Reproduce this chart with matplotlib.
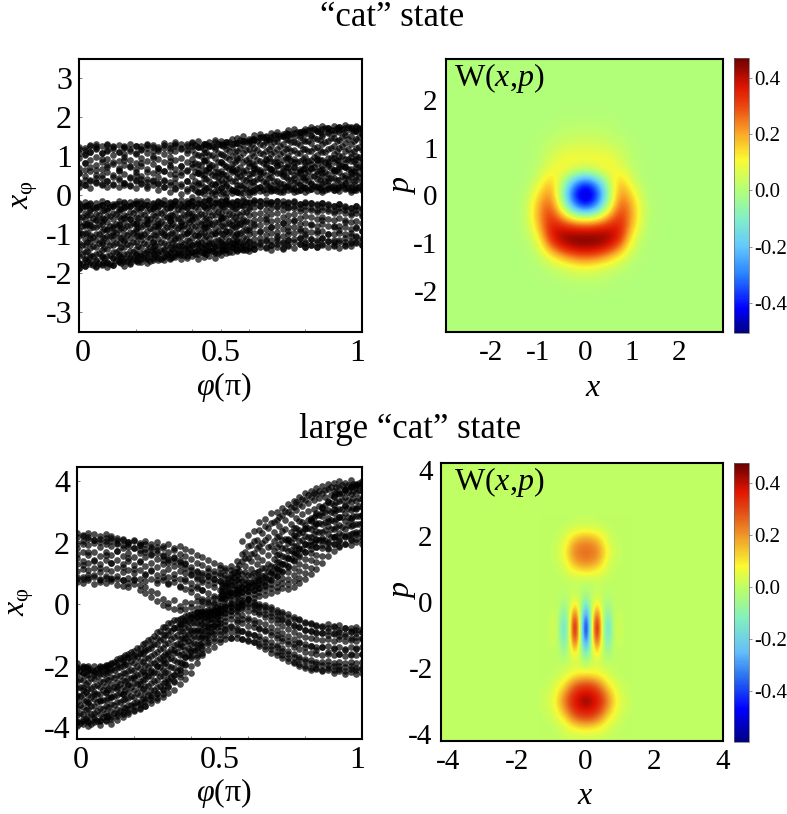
import numpy as np
import matplotlib
matplotlib.use('Agg')
import matplotlib.pyplot as plt
from matplotlib.colors import LinearSegmentedColormap
from matplotlib.ticker import FixedLocator
from matplotlib.transforms import ScaledTranslation

plt.rcParams['font.family'] = ['Liberation Serif', 'DejaVu Serif']
plt.rcParams['mathtext.fontset'] = 'custom'
plt.rcParams['mathtext.rm'] = 'Liberation Serif'
plt.rcParams['mathtext.it'] = 'Liberation Serif:italic'
plt.rcParams['axes.unicode_minus'] = False

W, H = 787, 814

# loose samples along the band edges, hundredths of x_phi, one list per phase column
cat_upper = [
[34,22,58,109,124],[41,27,83,117,106],[19,38,72,129,112],[31,45,66,121,131],[26,52,94,108,126],
[36,23,79,133,115],[29,48,87,119,127],[21,40,63,112,130],[33,28,91,124,106],[24,46,75,131,118],
[37,19,68,110,126],[30,43,84,128,116],[18,35,59,122,133],[27,41,97,113,130],[14,32,71,125,119],
[22,38,62,134,121],[9,26,88,115,129],[16,31,54,127,136],[4,24,76,122,131],[12,36,65,117,133],
[-3,20,82,138,126],[8,28,57,124,141],[15,5,92,131,119],[-6,22,70,136,128],[11,30,61,143,125],
[3,18,86,132,140],[-4,25,74,137,129],[13,7,66,145,133],[20,9,95,134,148],[6,27,58,141,152],
[16,2,83,146,135],[10,24,71,155,142],[21,12,60,149,158],[7,29,90,153,143],[18,14,68,161,150],
[11,25,79,147,164],[22,8,56,158,152],[15,28,97,167,155],[19,10,73,149,171],[26,13,62,162,155],
[9,20,85,170,158],[17,30,69,153,176],[12,23,92,166,172],[24,8,58,158,177],[16,27,80,174,163],
[13,21,65,179,160],[25,11,88,168,176],[18,29,72,162,180],[10,22,55,175,169],[20,14,94,179,165],
[15,26,68,172,160]]

cat_lower = [
[-20,-34,-172,-186,-95],[-28,-16,-163,-181,-72],[-22,-37,-176,-158,-110],[-31,-19,-184,-168,-64],[-24,-14,-156,-178,-120],
[-18,-33,-171,-183,-88],[-27,-21,-160,-177,-101],[-15,-35,-169,-152,-76],[-29,-20,-181,-163,-114],[-17,-26,-158,-174,-60],
[-23,-13,-166,-149,-92],[-30,-18,-155,-171,-105],[-14,-25,-145,-163,-70],[-21,-32,-159,-142,-118],[-16,-27,-150,-165,-82],
[-12,-24,-139,-157,-98],[-20,-30,-161,-146,-66],[-14,-22,-135,-152,-108],[-26,-11,-148,-130,-78],[-18,-29,-154,-138,-95],
[-13,-24,-128,-146,-62],[-21,-10,-141,-125,-103],[-28,-15,-134,-147,-84],[-12,-23,-122,-140,-70],[-19,-9,-144,-129,-96],
[-25,-14,-118,-136,-58],[-11,-20,-139,-126,-90],[-17,-27,-122,-132,-75],[-13,-22,-141,-116,-100],[-24,-8,-128,-137,-65],
[-16,-29,-118,-134,-88],[-19,-11,-138,-125,-72],[-27,-14,-120,-131,-94],[-12,-23,-135,-114,-60],[-21,-17,-127,-139,-82],
[-15,-28,-116,-132,-104],[-24,-13,-136,-122,-70],[-18,-30,-128,-115,-92],[-14,-26,-134,-119,-66],[-22,-33,-124,-110,-86],
[-17,-28,-131,-118,-100],[-31,-20,-112,-127,-74],[-23,-36,-133,-120,-90],[-19,-30,-125,-108,-62],[-34,-24,-116,-131,-98],
[-27,-40,-127,-113,-78],[-22,-33,-134,-119,-88],[-37,-29,-110,-126,-68],[-31,-44,-129,-116,-95],[-26,-38,-121,-107,-80],
[-35,-48,-128,-114,-90]]

large_upper = [
[72,88,218,232,150],[84,70,226,205,128],[78,95,233,214,170],[66,90,210,228,140],[80,73,221,203,118],
[92,68,216,228,160],[75,86,207,221,135],[64,82,200,216,175],[79,60,212,194,122],[55,70,202,188,150],
[66,84,205,183,115],[48,62,192,176,140],[56,36,196,172,95],[24,44,180,163,112],[38,10,168,186,78],
[-2,18,160,146,90],[6,-10,152,134,70],[-15,14,141,155,86],[-6,-18,128,144,60],[-14,8,118,136,82],
[-8,4,112,100,52],[-12,10,88,104,60],[-2,12,96,80,46],[0,18,78,92,108],[4,22,82,100,70],
[10,28,94,76,118],[16,30,86,112,62],[26,40,100,126,78],[32,48,118,140,96],[40,58,165,140,205],
[42,62,225,190,150],[46,70,238,205,168],[52,80,268,242,190],[62,90,255,278,210],[80,102,296,264,190],
[92,118,276,302,220],[108,132,312,290,240],[122,150,300,326,210],[146,170,336,316,250],[160,182,348,325,270],
[172,196,340,362,245],[180,206,370,348,280],[188,210,358,378,260],[192,216,386,364,300],[200,184,376,392,270],
[196,220,395,370,310],[205,190,382,400,285],[198,224,372,396,320],[212,194,404,386,275],[204,228,392,378,310],
[210,198,402,384,290]]

large_lower = [
[-395,-380,-192,-210,-300],[-388,-372,-205,-222,-280],[-396,-378,-215,-200,-320],[-384,-368,-200,-226,-290],[-392,-375,-218,-202,-310],
[-380,-362,-196,-212,-285],[-372,-388,-190,-208,-300],[-376,-358,-178,-196,-270],[-365,-350,-170,-188,-290],[-358,-342,-160,-176,-260],
[-348,-332,-152,-170,-240],[-340,-324,-142,-158,-260],[-330,-314,-125,-146,-230],[-312,-296,-112,-132,-220],[-306,-288,-90,-110,-200],
[-292,-274,-72,-96,-180],[-268,-250,-62,-84,-160],[-248,-230,-52,-76,-150],[-228,-206,-46,-66,-130],[-195,-172,-38,-56,-110],
[-168,-148,-30,-44,-90],[-166,-142,-28,-40,-88],[-158,-136,-20,-34,-100],[-124,-100,-24,-38,-75],[-118,-96,-18,-30,-70],
[-112,-88,-14,-28,-60],[-100,-82,-10,-24,-66],[-108,-90,-6,-20,-70],[-96,-78,-4,-16,-58],[-112,-88,4,-10,-48],
[-116,-96,14,-6,-52],[-124,-100,2,-16,-60],[-136,-112,-4,-24,-76],[-122,-146,-10,-30,-84],[-158,-134,-14,-38,-90],
[-166,-140,-24,-46,-100],[-176,-152,-30,-52,-110],[-184,-160,-40,-62,-120],[-192,-170,-46,-70,-130],[-200,-178,-52,-74,-125],
[-206,-184,-60,-82,-140],[-212,-190,-64,-86,-135],[-208,-194,-70,-92,-150],[-218,-196,-72,-94,-140],[-214,-198,-78,-100,-155],
[-222,-200,-70,-96,-145],[-216,-202,-82,-104,-160],[-226,-204,-76,-102,-150],[-220,-200,-88,-108,-165],[-228,-206,-84,-106,-145],
[-222,-204,-90,-110,-160]]

# samples inside the bands
cat_upper_inner = [
[32,58,71,96,118],[28,49,83,104,122,66],[41,62,90,111,128],[35,53,78,99,120,127],[30,46,69,87,108],
[38,60,74,94,116,130],[27,52,81,103,125],[44,65,89,112,70],[33,56,77,98,121,128],[26,48,72,92,115],
[39,61,84,106,127,53],[31,50,75,97,119],[24,43,67,88,110,129],[36,58,80,101,124],[29,47,70,93,114,62],
[22,41,64,86,107,130],[34,55,78,99,122,72],[20,44,68,90,113,132],[30,52,75,96,118,60],[16,38,62,85,108,128],
[27,49,73,94,117,134],[8,33,57,80,103,125,68],[22,44,66,88,110,131,52],[12,36,60,82,104,127,74],[5,28,50,72,95,118,136],
[18,40,63,85,107,129,56],[6,30,53,76,98,120,138,42],[15,37,59,81,102,124,70],[8,26,48,69,91,113,135,58],[20,42,64,86,108,130,141],
[10,32,54,75,97,119,140,46],[14,36,58,79,101,123,144,67],[22,44,66,88,110,132,55,148],[16,34,52,72,93,115,136,150,80],[12,28,47,68,89,106,127,146,60],
[20,38,57,76,96,118,139,155,85],[14,30,49,70,91,112,133,152,62],[24,42,61,80,100,122,143,158,74],[17,33,53,73,94,116,137,160,86,44],[13,29,48,67,88,109,130,151,164,58],
[21,39,58,77,98,119,141,162,70,47],[16,32,51,71,92,113,134,155,168,82],[25,43,62,81,103,124,146,166,56,93],[15,31,50,69,90,111,132,153,170,75],[19,37,56,76,97,118,140,161,174,86,46],
[14,28,46,65,85,106,127,148,169,59,96],[22,40,60,79,100,121,143,164,176,72],[17,33,52,72,93,114,135,156,172,84,44],[15,29,48,68,89,110,131,152,173,61,99],[24,41,61,81,102,123,145,165,176,73,53],
[16,34,54,74,95,116,137,158,170,86]]

cat_lower_inner = [
[-22,-38,-55,-71,-88,-104,-121,-138,-155,-172,-185],[-27,-44,-60,-79,-95,-112,-128,-146,-163,-180],[-20,-35,-51,-68,-84,-101,-118,-134,-152,-170,-76],[-30,-47,-63,-81,-98,-115,-131,-149,-166,-182],[-24,-40,-57,-73,-90,-107,-124,-141,-158,-175,-66],
[-19,-36,-52,-69,-86,-103,-120,-137,-154,-172],[-28,-45,-61,-78,-94,-111,-127,-144,-161,-178,-83],[-22,-39,-56,-72,-89,-106,-122,-139,-156,-170],[-17,-33,-50,-67,-83,-100,-117,-133,-150,-167,-58],[-26,-43,-59,-76,-93,-109,-126,-143,-160,-176],
[-20,-37,-54,-70,-87,-104,-120,-137,-153,-168,-74],[-15,-31,-48,-65,-82,-98,-115,-132,-148,-164],[-24,-41,-57,-74,-91,-107,-124,-140,-157,-172,-62],[-18,-35,-51,-68,-85,-101,-118,-134,-151,-166],[-14,-29,-46,-63,-79,-96,-112,-129,-145,-160,-72],
[-22,-39,-55,-72,-88,-105,-121,-138,-154,-166],[-16,-32,-49,-66,-82,-99,-115,-132,-148,-162,-58],[-13,-28,-45,-61,-78,-94,-111,-127,-144,-158],[-21,-37,-54,-70,-87,-103,-120,-136,-152,-164,-68],[-15,-31,-48,-64,-81,-97,-114,-130,-146,-160],
[-13,-27,-44,-60,-77,-93,-110,-126,-142,-156,-52],[-20,-36,-53,-69,-85,-102,-118,-134,-150,-162],[-14,-30,-47,-63,-80,-96,-112,-128,-144,-157,-72],[-12,-26,-43,-59,-75,-92,-108,-124,-140,-154],[-19,-35,-51,-68,-84,-100,-117,-133,-148,-160],
[-14,-29,-46,-62,-78,-95,-111,-127,-142,-152,-56],[-13,-25,-41,-57,-74,-90,-106,-122,-137,-148],[-18,-34,-50,-66,-83,-99,-115,-131,-146],[-15,-30,-46,-63,-79,-95,-111,-127,-142,-70],[-13,-27,-43,-59,-75,-91,-107,-123,-139],
[-19,-35,-51,-68,-84,-100,-116,-132,-142],[-15,-30,-47,-63,-79,-95,-111,-127,-138],[-14,-28,-44,-60,-76,-92,-108,-124],[-20,-36,-52,-69,-85,-101,-117,-133],[-16,-32,-48,-65,-81,-97,-113,-128],
[-15,-30,-46,-62,-78,-94,-110,-125],[-21,-37,-54,-70,-87,-103,-119,-134],[-17,-33,-50,-66,-82,-98,-114,-130],[-16,-31,-47,-63,-80,-96,-112],[-23,-40,-57,-74,-91,-108,-125],
[-18,-36,-53,-70,-88,-105,-122,-133],[-20,-38,-56,-75,-94,-112,-128],[-25,-43,-60,-78,-96,-114,-131],[-19,-37,-55,-73,-92,-110,-127],[-23,-41,-60,-79,-98,-116],
[-28,-46,-64,-82,-100,-118,-130],[-21,-40,-58,-77,-95,-113],[-26,-44,-63,-81,-100,-119,-129],[-31,-49,-67,-86,-104,-122],[-27,-46,-65,-84,-103,-120],
[-33,-52,-71,-90,-108,-126]]

large_upper_inner = [
[83,107,131,165,183,201],[90,116,142,170,196,222],[86,112,136,162,192,218],[94,120,146,172,200,210],[82,105,133,158,186,212],
[87,114,143,170,198,206],[81,109,135,162,190,217],[92,118,145,173,195,209],[80,104,130,157,184,211],[86,113,140,168,195,202],
[78,102,128,155,182,209],[84,111,138,166,193,200],[76,100,126,153,180,206],[82,108,135,162,188,198],[70,96,122,149,176,202],
[78,104,130,157,184,190],[66,90,116,143,170,196],[72,98,124,151,178,184],[58,82,110,137,164,190],[50,76,102,130,156,180],
[40,68,96,122,148,174],[26,54,82,110,136,162],[18,46,74,102,128,154],[8,36,64,92,118,144],[2,28,56,84,110,136],
[-4,22,48,76,102,128],[0,20,42,70,96,120],[4,18,38,62,88,112],[10,24,38,54,80,104],[14,26,40,56,76,98],
[18,30,44,58,74,94],[22,34,48,62,80,102],[26,40,54,68,88,110],[32,46,60,76,96,118],[38,52,66,82,104,126],
[44,58,74,92,114,138,160,186],[52,68,86,106,130,156,182,208],[50,66,84,104,126,150,174,200,214],[58,76,96,118,140,164,190,216,226],[68,86,108,130,154,180,206,232,242],
[82,102,124,148,172,198,224,250,258],[98,120,144,168,194,220,246,272,276],[114,138,162,188,214,240,266,292,296],[134,158,182,208,234,260,286,312,316],[156,180,204,230,256,282,308,334,336],
[174,196,220,246,272,298,324,350,352],[186,208,232,258,284,310,336,360,364],[198,220,244,270,296,322,348,372,374],[208,230,254,280,306,332,358,382,382],[214,236,260,286,312,338,364,388,388],
[220,242,266,292,318,344,368,392,392]]

large_lower_inner = [
[-382,-360,-338,-316,-294,-272,-250,-228,-206,-204],[-378,-356,-334,-312,-290,-268,-246,-224,-202,-208],[-384,-362,-340,-318,-296,-274,-252,-230,-208,-212],[-374,-352,-330,-308,-286,-264,-242,-220,-218],[-380,-358,-336,-314,-292,-270,-248,-226,-204,-210],
[-376,-354,-332,-310,-288,-266,-244,-222,-200,-206],[-368,-346,-324,-302,-280,-258,-236,-214,-194],[-362,-340,-318,-296,-274,-252,-230,-208,-188],[-356,-334,-312,-290,-268,-246,-224,-202,-180],[-350,-328,-306,-284,-262,-240,-218,-196,-172],
[-344,-322,-300,-278,-256,-234,-212,-190,-166],[-338,-316,-294,-272,-250,-228,-206,-184,-160],[-330,-308,-286,-264,-242,-220,-198,-176,-152],[-322,-300,-278,-256,-234,-212,-190,-168,-142],[-312,-290,-268,-246,-224,-202,-180,-156,-130],
[-300,-278,-256,-234,-212,-190,-168,-142,-114],[-288,-266,-244,-222,-200,-178,-154,-126,-98],[-278,-254,-230,-206,-182,-158,-132,-106,-78],[-260,-236,-212,-188,-164,-140,-114,-88,-64],[-244,-220,-196,-172,-148,-124,-100,-76,-52],
[-222,-200,-176,-154,-130,-108,-84,-62,-40],[-190,-170,-150,-128,-106,-84,-62,-42,-26],[-166,-146,-126,-106,-84,-64,-44,-26],[-150,-130,-110,-90,-70,-50,-34,-18],[-140,-110,-86,-66,-48,-32,-18],
[-122,-96,-70,-52,-36,-24,-12],[-112,-80,-54,-40,-28,-16,-6],[-108,-74,-48,-34,-22,-10,0],[-110,-82,-52,-34,-20,-8,4],[-114,-88,-62,-36,-16,-2,8],
[-118,-94,-70,-44,-20,0,16],[-122,-98,-74,-50,-26,-4,8],[-128,-104,-80,-56,-32,-10,2],[-136,-112,-88,-64,-40,-18,-2],[-146,-122,-98,-74,-50,-28,-10],
[-156,-132,-108,-84,-60,-38,-18],[-166,-142,-118,-94,-70,-46,-26],[-176,-152,-128,-104,-80,-56,-32],[-186,-162,-138,-114,-90,-66,-40],[-194,-170,-146,-122,-98,-74,-48],
[-202,-178,-154,-130,-106,-82,-56],[-206,-182,-158,-134,-110,-86,-62],[-210,-186,-162,-138,-114,-90,-66],[-212,-188,-164,-140,-116,-92,-70],[-208,-184,-160,-136,-112,-88,-64],
[-214,-190,-166,-142,-118,-94,-74],[-210,-186,-162,-138,-114,-90,-68],[-216,-192,-168,-144,-120,-96,-76],[-211,-187,-163,-139,-115,-91,-78],[-214,-190,-166,-142,-118,-94,-72],
[-210,-186,-162,-138,-114,-90,-80]]

# extra samples in the parts of the bands that print nearly solid black, set between the columns above
cat_upper_dense_phi = (0.41, 0.99)
cat_upper_dense = [
[14,37,59,83,107,129],[10,31,55,77,101,124],[18,42,66,90,112,133],[7,29,52,79,103,126],[13,35,61,86,109,131,48],
[9,33,56,81,105,128],[20,44,69,93,115,137],[12,38,63,87,111,134],[6,27,50,74,99,122,143],[17,41,65,91,116,139],
[11,34,58,84,108,132,146],[19,43,67,92,117,141],[13,36,60,83,107,130,150],[22,46,70,95,119,143],[15,37,62,87,112,136,155],
[10,33,57,82,106,128,152],[23,47,72,97,120,145,160],[16,39,64,89,113,138,157],[12,35,59,85,110,134,162],[21,45,68,94,118,142,165],
[14,38,63,88,114,140,167],[25,49,73,99,123,147,170],[18,41,66,91,116,143,164],[13,36,61,87,111,137,172],[22,46,71,96,122,148,168],
[16,40,65,90,115,141,174],[27,50,75,101,126,151,171],[19,43,67,93,119,146,175],[14,37,62,88,113,139,166],[23,47,72,98,124,149,173]]

cat_lower_dense_phi = (0.01, 0.59)
cat_lower_dense = [
[-30,-54,-78,-100,-126,-150,-176],[-24,-49,-74,-97,-118,-143,-168],[-33,-58,-82,-107,-130,-155,-179],[-26,-50,-76,-99,-123,-147,-173],[-36,-61,-85,-110,-134,-160,-170],
[-29,-53,-79,-103,-128,-152,-176],[-23,-47,-72,-96,-121,-146,-165],[-34,-59,-83,-108,-132,-157,-172],[-27,-52,-77,-101,-125,-149,-168],[-21,-46,-70,-95,-119,-144,-162],
[-32,-57,-81,-105,-130,-154,-170],[-25,-50,-75,-99,-123,-147,-159],[-35,-60,-84,-109,-133,-151,-167],[-28,-53,-78,-102,-126,-141,-156],[-20,-45,-69,-94,-118,-143,-164],
[-31,-56,-80,-104,-128,-149,-153],[-24,-49,-73,-97,-122,-138,-158],[-34,-58,-83,-107,-129,-146,-150],[-27,-51,-76,-100,-124,-136,-153],[-19,-44,-68,-92,-116,-133,-147],
[-30,-55,-79,-102,-125,-142,-149],[-23,-48,-72,-96,-119,-131,-144],[-33,-57,-81,-105,-127,-139,-151],[-26,-50,-74,-98,-121,-134,-143],[-18,-43,-67,-91,-114,-129,-148],
[-29,-54,-77,-100,-124,-137,-141],[-22,-47,-71,-94,-116,-130,-145],[-32,-56,-80,-103,-121,-127,-138],[-25,-49,-73,-96,-118,-133,-136],[-17,-42,-66,-89,-111,-126,-140]]

large_upper_dense_phi = (0.51, 0.99)
large_upper_dense = [
[21,31,37,47,55,65],[29,41,49,61,71,83],[37,51,63,73,89,105],[45,57,73,87,107,127],
[49,67,83,105,125,151,171],[57,73,95,115,141,165,193],[63,85,105,131,155,185,211],[73,93,119,143,173,199,233],
[83,109,133,161,187,219,247],[99,121,149,175,207,235,267],[111,139,165,195,223,255,283],[131,155,185,213,245,273,305],
[147,177,203,235,261,293,317],[167,191,223,249,281,307,333],[179,209,235,267,293,321,343],[193,219,249,275,305,331,355],
[199,229,255,285,311,341,361],[209,235,265,291,321,345,369],[211,241,267,299,323,351,373],[219,245,275,301,331,355,381],
[221,251,277,307,333,361,383],[227,253,283,309,339,363,387],[227,257,285,315,341,367,389],[233,259,289,315,345,369,393],
[233,263,289,319,345,373,395]]

large_lower_dense_phi = (0.01, 0.49)
large_lower_dense = [
[-386,-352,-326,-298,-268,-244,-216],[-374,-344,-314,-284,-258,-230,-204],[-390,-358,-330,-302,-272,-240,-212],[-380,-348,-318,-290,-262,-232,-210],
[-368,-340,-312,-280,-252,-226,-204],[-364,-334,-304,-276,-246,-220,-198],[-354,-326,-298,-268,-240,-212,-186],[-346,-316,-288,-258,-232,-204,-176],
[-336,-308,-280,-250,-224,-194,-166],[-326,-298,-268,-240,-212,-184,-156],[-316,-288,-258,-230,-200,-172,-142],[-306,-276,-246,-218,-188,-158,-130],
[-294,-264,-234,-204,-174,-146,-116],[-280,-250,-220,-190,-160,-130,-102],[-264,-234,-204,-174,-146,-116,-86],[-252,-220,-190,-160,-130,-100,-72],
[-236,-204,-174,-144,-114,-86,-60],[-216,-186,-156,-128,-100,-74,-52],[-190,-162,-136,-110,-86,-64,-44],[-166,-142,-118,-96,-74,-54,-36],
[-148,-126,-104,-82,-62,-44,-28],[-130,-108,-86,-68,-50,-36,-24],[-108,-88,-70,-54,-40,-30,-20],[-90,-72,-58,-46,-34,-24,-14],
[-74,-60,-48,-38,-28,-18,-10]]

cat_x_step, cat_p_top = 0.25, 1.75
cat_wigner = [
[.00,.00,.00,.00,.00,.00,.00,.00],
[.01,.01,.01,.00,.00,.00,.00,.00],
[.03,.03,.02,.01,.00,.00,.00,.00],
[.07,.06,.05,.03,.01,.00,.00,.00],
[.10,.11,.10,.05,.01,.00,.00,.00],
[.02,.06,.11,.10,.02,.00,.00,.00],
[-.42,-.26,.02,.20,.06,.00,.00,.00],
[-.50,-.42,-.03,.26,.14,.01,.00,.00],
[-.42,-.26,.06,.31,.20,.02,.00,.00],
[.10,.13,.25,.35,.20,.02,.00,.00],
[.40,.41,.41,.37,.14,.01,.00,.00],
[.47,.46,.42,.30,.06,.00,.00,.00],
[.31,.29,.22,.12,.02,.00,.00,.00],
[.10,.08,.05,.02,.00,.00,.00,.00],
[.02,.02,.01,.00,.00,.00,.00,.00],
[.00,.00,.00,.00,.00,.00,.00,.00]]

large_x_step, large_p_top = 0.16, 2.5
large_wigner = [
[.01,.01,.00,.00,.00,.00,.00,.00,.00],
[.03,.03,.03,.02,.01,.00,.00,.00,.00],
[.14,.13,.10,.07,.03,.01,.00,.00,.00],
[.23,.22,.19,.12,.05,.02,.01,.00,.00],
[.25,.24,.22,.15,.07,.03,.01,.00,.00],
[.23,.22,.19,.12,.05,.02,.01,.00,.00],
[.14,.13,.10,.07,.03,.01,.00,.00,.00],
[.03,.03,.03,.02,.01,.00,.00,.00,.00],
[-.01,.00,.01,.00,.00,.00,.00,.00,.00],
[-.05,.00,.02,.00,-.01,.00,.00,.00,.00],
[-.14,.00,.08,.00,-.04,.00,.00,.00,.00],
[-.30,.00,.22,.00,-.10,.00,.01,.00,.00],
[-.47,.00,.38,.00,-.16,.00,.02,.00,.00],
[-.56,.00,.47,.00,-.21,.00,.03,.00,.00],
[-.52,.00,.43,.00,-.19,.00,.03,.00,.00],
[-.37,.00,.30,.00,-.13,.00,.02,.00,.00],
[-.19,.00,.14,.00,-.07,.00,.00,.00,.00],
[-.06,.01,.05,.01,-.02,.00,.00,.00,.00],
[.02,.04,.04,.03,.02,.01,.00,.00,.00],
[.14,.13,.11,.08,.04,.02,.01,.00,.00],
[.30,.29,.25,.18,.10,.06,.03,.01,.00],
[.38,.37,.34,.27,.18,.10,.04,.02,.01],
[.44,.41,.37,.31,.22,.13,.06,.03,.01],
[.38,.37,.34,.27,.18,.10,.04,.02,.01],
[.30,.29,.25,.18,.10,.06,.03,.01,.00],
[.14,.13,.11,.08,.04,.02,.01,.00,.00],
[.04,.04,.03,.03,.02,.01,.00,.00,.00],
[.01,.01,.01,.01,.00,.00,.00,.00,.00]]

cbar_ticks = [-0.4, -0.2, 0.0, 0.2, 0.4]

# colour bar colours as they look in the picture, value then RGB
cat_stops = [(-.507,(0,0,130)),(-.42,(0,0,255)),(-.30,(40,130,255)),(-.20,(100,200,255)),(-.10,(130,240,200)),(0,(178,255,120)),
             (.11,(250,250,50)),(.20,(250,170,40)),(.30,(235,70,15)),(.37,(220,20,0)),(.47,(110,0,0))]
large_stops = [(-.596,(0,0,130)),(-.47,(0,0,255)),(-.35,(40,110,240)),(-.25,(100,190,250)),(-.12,(130,240,190)),(0,(190,255,100)),
               (.08,(250,250,50)),(.20,(240,150,40)),(.30,(225,70,20)),(.37,(225,20,0)),(.477,(100,0,0))]


def make_cmap(stops):
    lo, hi = stops[0][0], stops[-1][0]
    return LinearSegmentedColormap.from_list(
        'bar', [((v - lo) / (hi - lo), tuple(c / 255 for c in rgb)) for v, rgb in stops]), lo, hi


def box(left, top, right, bottom):
    return [left / W, 1 - bottom / H, (right - left) / W, (bottom - top) / H]


def text_px(x, y, s, size, rotation=0):
    fig.text(x / W, 1 - y / H, s, fontsize=size, rotation=rotation, ha='center', va='center')


def style_spines(ax):
    for sp in ax.spines.values():
        sp.set_linewidth(1.5)
        sp.set_color('black')


def draw_band(ax, band, phi_range=(0, 1)):
    phi_cols = np.linspace(phi_range[0], phi_range[1], len(band))
    for phi, col in zip(phi_cols, band):
        vals = np.array(col) / 100
        ax.plot([phi] * len(vals), vals, 'o', ms=4.8, color='black', alpha=0.7, mew=0)


def style_scatter(ax, ylim, yticks):
    ax.set_xlim(0, 1)
    ax.set_ylim(*ylim)
    ax.set_xticks([0, 0.5, 1])
    ax.set_xticklabels(['0', '0.5', '1'])
    ax.xaxis.set_minor_locator(FixedLocator([0.2, 0.4, 0.6, 0.8]))
    ax.set_yticks(yticks)
    ax.set_yticklabels([str(t) for t in yticks])
    ax.tick_params(axis='both', which='major', direction='in', length=2, width=0.6, color='#666666', labelsize=23, pad=5)
    ax.tick_params(axis='both', which='minor', direction='in', length=2, width=0.6, color='#666666')
    labels = ax.get_xticklabels()
    labels[0].set_transform(labels[0].get_transform() + ScaledTranslation(4 / 100, 0, fig.dpi_scale_trans))
    labels[2].set_transform(labels[2].get_transform() + ScaledTranslation(-5 / 100, 0, fig.dpi_scale_trans))
    style_spines(ax)


def draw_wigner(ax, cax, half, x_step, p_top, stops, xlim, ylim, ticks):
    half = np.array(half)
    grid = np.hstack([half[:, :0:-1], half])
    x_edge = x_step * (half.shape[1] - 0.5)
    p_bottom = p_top - 0.25 * (half.shape[0] - 1)
    cmap, vmin, vmax = make_cmap(stops)
    im = ax.imshow(grid, cmap=cmap, vmin=vmin, vmax=vmax, aspect='auto',
                   extent=(-x_edge, x_edge, p_bottom - 0.125, p_top + 0.125),
                   interpolation='bicubic', interpolation_stage='data')
    ax.set_facecolor(im.cmap(im.norm(0.0)))
    ax.set_xlim(*xlim)
    ax.set_ylim(*ylim)
    ax.set_xticks(ticks)
    ax.set_yticks(ticks)
    ax.set_xticklabels([str(t) for t in ticks])
    ax.set_yticklabels([str(t) for t in ticks])
    ax.tick_params(axis='both', direction='in', length=0, labelsize=21, pad=6)
    style_spines(ax)
    x0, x1 = ax.get_position().x0 * W, ax.get_position().x1 * W
    ax.text((454 - x0) / (x1 - x0), 0.93, r'W($\mathit{x}$,$\mathit{p}$)', transform=ax.transAxes,
            fontsize=23, ha='left', va='center')

    cb = fig.colorbar(im, cax=cax)
    cb.set_ticks(cbar_ticks)
    cb.set_ticklabels(['%.1f' % t for t in cbar_ticks])
    cb.ax.tick_params(labelsize=15, length=2, width=0.5, color='#666666', pad=2)
    cb.outline.set_linewidth(0.5)
    cb.outline.set_edgecolor('#666666')


if __name__ == '__main__':
    fig = plt.figure(figsize=(W / 100, H / 100), dpi=100)

    ax1 = fig.add_axes(box(79, 59, 362, 332))
    for band in [cat_upper_inner, cat_lower_inner, cat_upper, cat_lower]:
        draw_band(ax1, band)
    draw_band(ax1, cat_upper_dense, cat_upper_dense_phi)
    draw_band(ax1, cat_lower_dense, cat_lower_dense_phi)
    style_scatter(ax1, (-3.5, 3.5), [-3, -2, -1, 0, 1, 2, 3])

    ax3 = fig.add_axes(box(77, 467, 362, 739))
    for band in [large_upper_inner, large_lower_inner, large_upper, large_lower]:
        draw_band(ax3, band)
    draw_band(ax3, large_upper_dense, large_upper_dense_phi)
    draw_band(ax3, large_lower_dense, large_lower_dense_phi)
    style_scatter(ax3, (-4.38, 4.47), [-4, -2, 0, 2, 4])

    ax2 = fig.add_axes(box(446, 59, 723, 332))
    cax2 = fig.add_axes(box(734, 58, 749, 333))
    draw_wigner(ax2, cax2, cat_wigner, cat_x_step, cat_p_top, cat_stops,
                (-2.96, 2.94), (-2.85, 2.85), [-2, -1, 0, 1, 2])

    ax4 = fig.add_axes(box(441, 463, 723, 741))
    cax4 = fig.add_axes(box(734, 463, 749, 742))
    draw_wigner(ax4, cax4, large_wigner, large_x_step, large_p_top, large_stops,
                (-4.2, 4.0), (-4.2, 4.2), [-4, -2, 0, 2, 4])

    text_px(392, 18, '“cat” state', 25)
    text_px(410, 430, 'large “cat” state', 25)

    text_px(224, 387, r'$\mathit{φ}$(π)', 23)
    text_px(224, 793, r'$\mathit{φ}$(π)', 23)
    text_px(26, 195, r'$\mathit{x}_{\mathrm{φ}}$', 23, rotation=90)
    text_px(22, 602, r'$\mathit{x}_{\mathrm{φ}}$', 23, rotation=90)

    text_px(593, 388, r'$\mathit{x}$', 23)
    text_px(585, 796, r'$\mathit{x}$', 23)
    text_px(404, 185, r'$\mathit{p}$', 23, rotation=90)
    text_px(404, 590, r'$\mathit{p}$', 23, rotation=90)

    plt.savefig('out.png', dpi=100)
